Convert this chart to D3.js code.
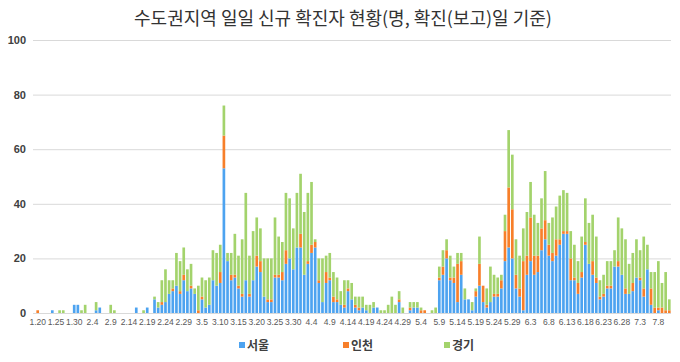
<!DOCTYPE html>
<html><head><meta charset="utf-8">
<script src="https://cdn.jsdelivr.net/npm/d3@7"></script>
<style>
body{margin:0;background:#fff;}
svg{display:block;font-family:"Noto Sans CJK KR","Noto Sans",sans-serif;}
</style></head>
<body><svg id="c" width="680" height="362"></svg>
<script>
const startDate = [2020, 1, 20];
const dayCount = 174;
const tickLabels = ["1.20","1.25","1.30","2.4","2.9","2.14","2.19","2.24","2.29","3.5","3.10","3.15","3.20","3.25","3.30","4.4","4.9","4.14","4.19","4.24","4.29","5.4","5.9","5.14","5.19","5.24","5.29","6.3","6.8","6.13","6.18","6.23","6.28","7.3","7.8"];
const yTicks = [0,20,40,60,80,100];
const seriesNames = ["서울","인천","경기"];
const seriesColors = ["#4da3f0","#f77f2a","#a3d36c"];

const seoul = [
0,0,0,0,1,0,0,0,0,0,
3,3,0,0,0,0,1,2,0,0,
0,0,0,0,0,0,0,2,0,0,
2,0,5,2,3,4,7,8,10,7,
12,8,9,7,0,5,2,3,12,10,
11,53,19,12,13,9,6,12,6,12,
17,15,6,4,4,13,13,12,18,20,
16,24,24,14,18,22,24,11,4,11,
12,4,4,3,2,8,5,2,1,2,
1,0,2,2,0,0,0,0,0,4,
0,0,1,2,2,0,0,0,0,0,
12,14,20,12,11,4,14,5,5,1,
6,10,4,2,4,6,6,9,19,24,
20,9,6,1,14,19,14,15,23,27,
21,19,21,25,29,29,12,12,7,13,
25,18,14,11,5,6,9,9,17,17,
14,7,7,8,13,12,6,16,3,0,
1,0,0,0];
const incheon = [
1,0,0,0,0,0,0,0,0,0,
0,0,0,0,0,0,0,0,0,0,
0,0,0,0,0,0,0,0,0,0,
0,0,0,0,1,0,0,1,0,1,
2,0,1,0,1,1,0,0,0,0,
4,12,0,2,1,1,1,0,1,0,
4,4,0,1,1,1,1,3,5,0,
0,0,5,0,1,3,2,1,0,4,
1,2,1,0,1,1,0,1,1,0,
0,0,0,0,0,0,0,0,0,1,
0,0,1,0,0,1,1,0,0,0,
1,3,3,1,2,14,5,0,0,0,
2,8,6,1,0,1,1,3,11,22,
18,5,3,18,7,16,7,6,8,7,
4,3,6,2,1,1,8,1,4,2,
1,0,5,2,1,1,1,1,0,2,
0,2,0,3,0,1,3,0,6,2,
1,2,1,1];
const gyeonggi = [
0,0,0,0,0,0,1,1,0,0,
0,0,1,3,0,0,3,0,0,0,
3,1,0,0,0,0,0,0,0,1,
0,0,1,2,8,12,5,3,12,11,
10,8,8,2,9,7,10,10,11,12,
10,11,3,8,15,11,20,32,14,18,
14,12,14,15,15,21,14,11,21,22,
15,20,22,23,25,23,1,8,16,6,
9,9,8,5,9,3,6,3,4,4,
2,3,2,0,1,1,3,6,3,3,
2,0,2,2,2,1,0,0,1,2,
4,6,4,8,4,4,3,4,0,3,
1,10,0,6,13,7,6,2,6,21,
20,13,12,12,16,13,15,12,11,18,
8,13,12,16,15,14,10,12,8,13,
16,15,17,15,6,7,9,9,6,16,
17,18,11,11,14,10,19,9,6,13,
17,9,14,4];

// category labels (M.D) for each day
const dates = [];
{
  const d0 = new Date(startDate[0], startDate[1]-1, startDate[2]);
  for (let i = 0; i < dayCount; i++) {
    const d = new Date(d0.getFullYear(), d0.getMonth(), d0.getDate() + i);
    dates.push((d.getMonth()+1) + "." + d.getDate());
  }
}
const rows = dates.map((d,i)=>({date:d, s:seoul[i], i:incheon[i], g:gyeonggi[i]}));

const svg = d3.select("#c");
const M = {left:36, right:671, top:40, bottom:313};

const x = d3.scaleBand().domain(dates).range([M.left, M.right]).paddingInner(0.27).paddingOuter(0.1);
const y = d3.scaleLinear().domain([0,100]).range([M.bottom, M.top]);

// gridlines + y labels
const yAxis = d3.axisLeft(y).tickValues(yTicks).tickSize(-(M.right - 33)).tickPadding(7);
const gy = svg.append("g").attr("transform", "translate(33,0)").call(yAxis);
gy.select(".domain").remove();
gy.selectAll(".tick line").attr("stroke", "#d9d9d9").attr("stroke-width", 1);
gy.selectAll(".tick text").attr("fill", "#404040").style("font-size", "11px").style("font-weight", "bold")
  .style("font-family", "'Liberation Sans', Arial, sans-serif");

// bars
const stack = d3.stack().keys(["s","i","g"]);
const layers = stack(rows);
svg.append("g").selectAll("g").data(layers).join("g")
  .attr("fill", (d,k)=>seriesColors[k])
  .selectAll("rect").data(d=>d).join("rect")
  .attr("x", d=>x(d.data.date))
  .attr("width", x.bandwidth())
  .attr("y", d=>y(d[1]))
  .attr("height", d=>Math.max(0, y(d[0]) - y(d[1])));

// x labels
const xAxis = d3.axisBottom(x).tickValues(tickLabels).tickSize(0).tickPadding(6);
const gx = svg.append("g").attr("transform", `translate(0,${M.bottom})`).call(xAxis);
gx.select(".domain").remove();
gx.selectAll(".tick text").attr("fill", "#595959").style("font-size", "8.5px")
  .style("font-family", "'Liberation Sans', Arial, sans-serif");

// title
svg.append("text").attr("x", 343).attr("y", 25).attr("text-anchor", "middle")
  .attr("fill", "#333").style("font-size", "18px")
  .text("수도권지역 일일 신규 확진자 현황(명, 확진(보고)일 기준)");

// legend
const legX = [239, 343, 444];
const leg = svg.append("g");
seriesNames.forEach((n,k)=>{
  leg.append("rect").attr("x", legX[k]).attr("y", 342).attr("width", 6).attr("height", 6).attr("fill", seriesColors[k]);
  leg.append("text").attr("x", legX[k]+8).attr("y", 349.5).attr("fill", "#404040")
    .style("font-size", "12px").style("font-weight", "bold").text(n);
});
</script></body></html>
